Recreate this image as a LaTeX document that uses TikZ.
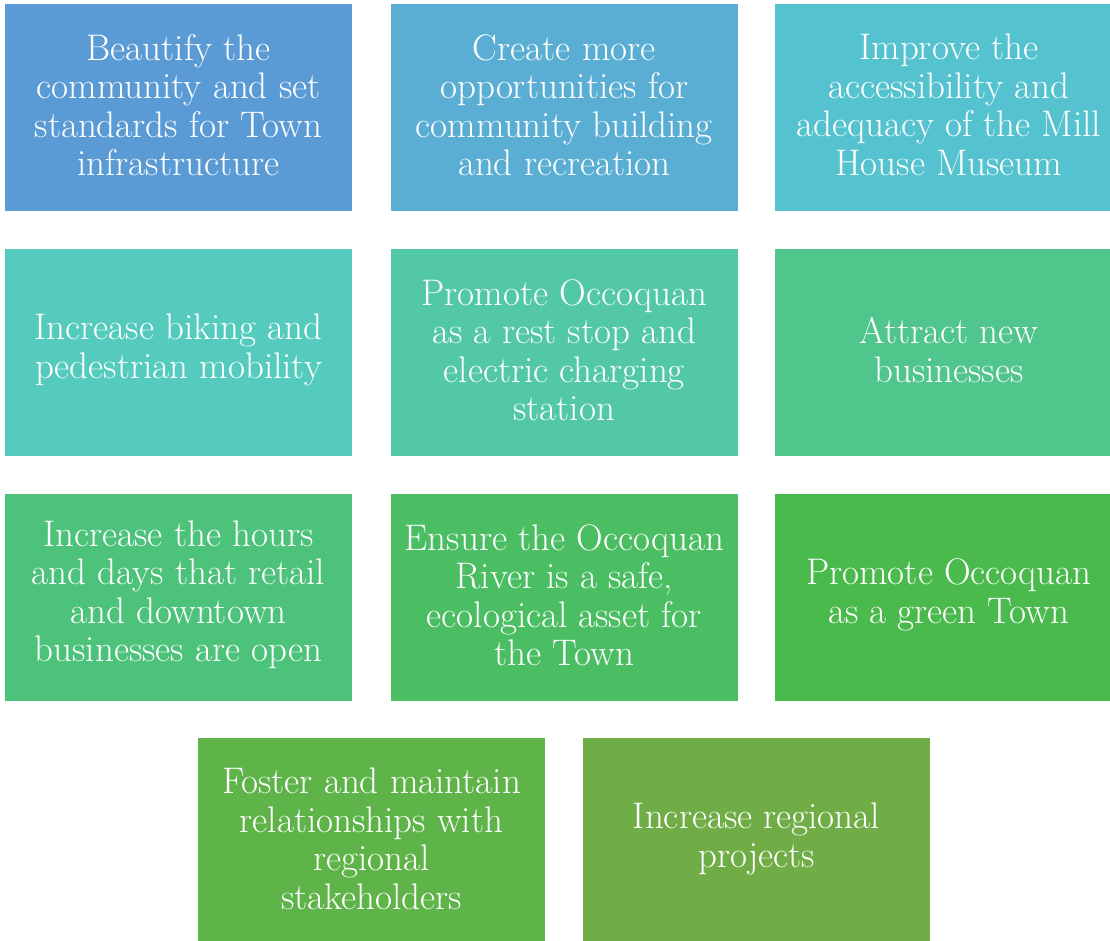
\documentclass[tikz,border=0pt]{standalone}
\usepackage{fontspec}
\begin{document}
\begin{tikzpicture}[x=1pt,y=-1pt,
  goal/.style={rectangle, fill=#1, draw=none, minimum width=347pt, minimum height=207pt,
    inner sep=0pt},
  goaltext/.style={inner sep=0pt, align=center, text=white,
    font=\fontsize{37}{38.5}\selectfont}]
\definecolor{c1}{HTML}{5B9BD5}
\definecolor{c2}{HTML}{5AAED3}
\definecolor{c3}{HTML}{55C2CF}
\definecolor{c4}{HTML}{55CBBE}
\definecolor{c5}{HTML}{52C8A7}
\definecolor{c6}{HTML}{50C58C}
\definecolor{c7}{HTML}{4DC27A}
\definecolor{c8}{HTML}{4BBD63}
\definecolor{c9}{HTML}{4ABA4C}
\definecolor{c10}{HTML}{5EB349}
\definecolor{c11}{HTML}{70AD47}
\useasboundingbox (0,0) rectangle (1110,940);
\fill[white] (0,0) rectangle (1110,940);
\node[goal=c1] (g1) at (178.5,107.5) {};
\node[goal=c2] (g2) at (564.3,107.5) {};
\node[goal=c3] (g3) at (948.8,107.5) {};
\node[goal=c4] (g4) at (178.5,352.5) {};
\node[goal=c5] (g5) at (564.3,352.5) {};
\node[goal=c6] (g6) at (948.8,352.5) {};
\node[goal=c7] (g7) at (178.5,597.5) {};
\node[goal=c8] (g8) at (564.3,597.5) {};
\node[goal=c9] (g9) at (948.8,597.5) {};
\node[goal=c10] (g10) at (371.5,841.5) {};
\node[goal=c11] (g11) at (756.5,841.5) {};
\node[goaltext] (t1) at ([yshift=2.5pt]g1.center) {Beautify the\\community and set\\standards for Town\\infrastructure};
\node[goaltext] (t2) at ([yshift=2.5pt]g2.center) {Create more\\opportunities for\\community building\\and recreation};
\node[goaltext] (t3) at ([yshift=2.5pt]g3.center) {Improve the\\accessibility and\\adequacy of the Mill\\House Museum};
\node[goaltext] (t4) at ([yshift=2.5pt]g4.center) {Increase biking and\\pedestrian mobility};
\node[goaltext] (t5) at ([yshift=2.5pt]g5.center) {Promote Occoquan\\as a rest stop and\\electric charging\\station};
\node[goaltext] (t6) at ([yshift=2.5pt]g6.center) {Attract new\\businesses};
\node[goaltext] (t7) at ([yshift=2.5pt]g7.center) {Increase the hours\\and days that retail\\and downtown\\businesses are open};
\node[goaltext] (t8) at ([yshift=2.5pt]g8.center) {Ensure the Occoquan\\River is a safe,\\ecological asset for\\the Town};
\node[goaltext] (t9) at ([yshift=2.5pt]g9.center) {Promote Occoquan\\as a green Town};
\node[goaltext] (t10) at ([yshift=2.5pt]g10.center) {Foster and maintain\\relationships with\\regional\\stakeholders};
\node[goaltext] (t11) at ([yshift=2.5pt]g11.center) {Increase regional\\projects};
\end{tikzpicture}
\end{document}
